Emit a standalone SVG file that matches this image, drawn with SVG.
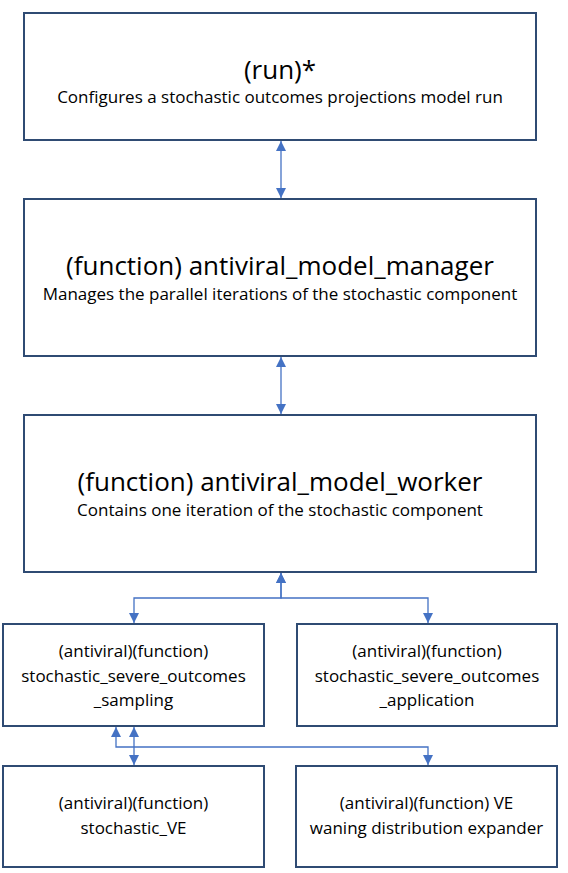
<svg xmlns="http://www.w3.org/2000/svg" width="568" height="873" viewBox="0 0 568 873">
<style>
  .box { fill: #ffffff; stroke: #2F4B73; stroke-width: 2; }
  .t { font-family: "Open Sans", "Noto Sans", sans-serif; fill: #000000; text-anchor: middle; }
  .title { font-size: 26px; }
  .sub { font-size: 17px; }
  .node { font-size: 17px; }
  .conn { fill: none; stroke: #4472C4; stroke-width: 1.3; marker-start: url(#arr); marker-end: url(#arr); }
</style>
<defs>
  <marker id="arr" viewBox="0 0 10 10" refX="10" refY="5" markerWidth="10" markerHeight="10" markerUnits="userSpaceOnUse" orient="auto-start-reverse">
    <path d="M0,0 L10,5 L0,10 Z" fill="#4472C4"/>
  </marker>
</defs>
<rect width="568" height="873" fill="#ffffff"/>

<g id="connectors">
  <path class="conn" d="M281,141 V198"/>
  <path class="conn" d="M281,357 V414"/>
  <path class="conn" d="M281,573 V598 H134 V623"/>
  <path class="conn" d="M281,573 V598 H428 V623"/>
  <path class="conn" d="M116,727 V747 H428 V765"/>
  <path class="conn" d="M134,727 V765"/>
</g>

<g id="run">
  <rect class="box" x="24" y="13" width="512" height="127"/>
  <text class="t title" x="280" y="79">(run)*</text>
  <text class="t sub" x="280" y="103">Configures a stochastic outcomes projections model run</text>
</g>

<g id="antiviral_model_manager">
  <rect class="box" x="24" y="199" width="512" height="157"/>
  <text class="t title" x="280" y="275">(function) antiviral_model_manager</text>
  <text class="t sub" x="280" y="300">Manages the parallel iterations of the stochastic component</text>
</g>

<g id="antiviral_model_worker">
  <rect class="box" x="24" y="415" width="512" height="157"/>
  <text class="t title" x="280" y="491">(function) antiviral_model_worker</text>
  <text class="t sub" x="280" y="516">Contains one iteration of the stochastic component</text>
</g>

<g id="sampling">
  <rect class="box" x="3" y="624" width="261" height="102"/>
  <text class="t node" x="133.5" y="657">(antiviral)(function)</text>
  <text class="t node" x="133.5" y="681.5">stochastic_severe_outcomes</text>
  <text class="t node" x="133.5" y="706">_sampling</text>
</g>

<g id="application">
  <rect class="box" x="297" y="624" width="260" height="102"/>
  <text class="t node" x="427" y="657">(antiviral)(function)</text>
  <text class="t node" x="427" y="681.5">stochastic_severe_outcomes</text>
  <text class="t node" x="427" y="706">_application</text>
</g>

<g id="stochastic_VE">
  <rect class="box" x="3" y="766" width="261" height="101"/>
  <text class="t node" x="133.5" y="809">(antiviral)(function)</text>
  <text class="t node" x="133.5" y="834">stochastic_VE</text>
</g>

<g id="ve_waning">
  <rect class="box" x="296" y="766" width="261" height="101"/>
  <text class="t node" x="426.5" y="809">(antiviral)(function) VE</text>
  <text class="t node" x="426.5" y="834">waning distribution expander</text>
</g>
</svg>
